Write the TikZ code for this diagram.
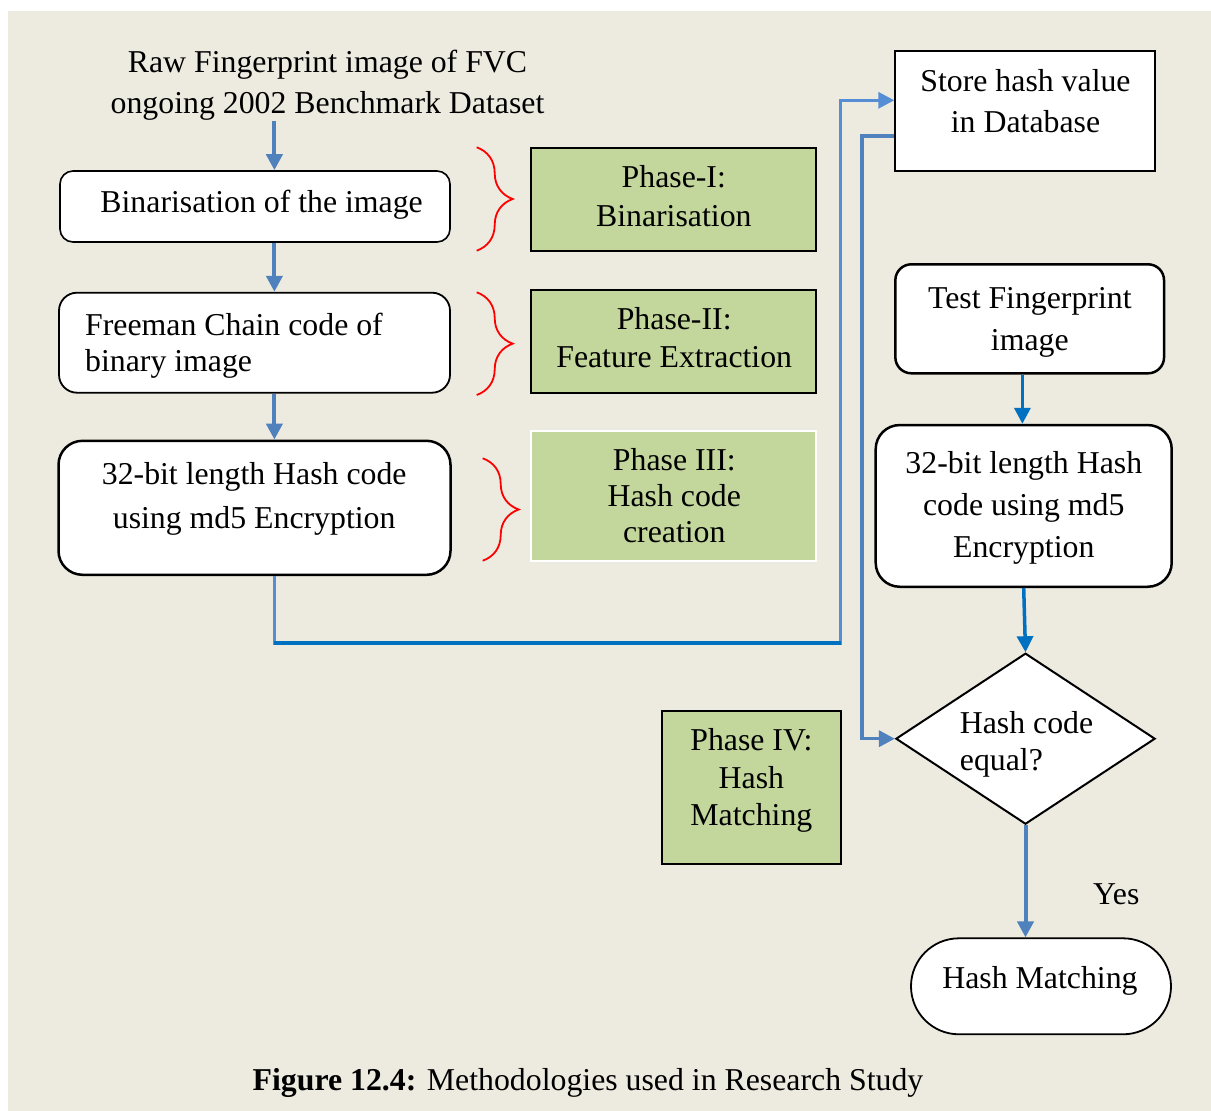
\documentclass[tikz,border=0pt]{standalone}
\usepackage{fontspec}
\setmainfont{Liberation Serif}
\usetikzlibrary{arrows.meta,shapes.geometric,decorations.pathreplacing}

\definecolor{paper}{HTML}{EDEAE0}
\definecolor{phasegreen}{HTML}{C3D69B}
\definecolor{flowblue}{HTML}{4F81BD}
\definecolor{lightflow}{HTML}{558ED5}
\definecolor{deepblue}{HTML}{0070C0}
\definecolor{bracered}{HTML}{FF0000}

\tikzset{
  body/.style={font=\fontsize{31.8}{#1}\selectfont, inner sep=0pt, align=center},
  body/.default=40,
  procbox/.style={draw=black, fill=white, inner sep=0pt, line width=1.8pt},
  phasebox/.style={draw=black, fill=phasegreen, inner sep=0pt, line width=2pt},
  flow/.style={draw=flowblue, line width=4pt,
    -{Triangle[length=16pt,width=16pt]}},
  deepflow/.style={draw=deepblue, line width=3.5pt,
    -{Triangle[length=16pt,width=16pt]}},
  phasebrace/.style={draw=bracered, line width=1.8pt, decorate,
    decoration={brace, amplitude=36pt}},
}

\begin{document}
\begin{tikzpicture}[x=1pt, y=-1pt]
  % page and tinted panel
  \fill[white] (0,0) rectangle (1211,1111);
  \fill[paper] (8,11) rectangle (1211,1111);
  \useasboundingbox (0,0) rectangle (1211,1111);

  % columns used by the vertical connectors
  \coordinate (colL) at (274.4,0);
  \coordinate (colR) at (1022.4,0);

  % ---------------- left column: enrolment pipeline ----------------
  \node[body=41.6] (src) at (327.5,85.2)
    {Raw Fingerprint image of FVC\\ongoing 2002 Benchmark Dataset};

  \node[procbox, rounded corners=13pt, line width=1.6pt,
        minimum width=390pt, minimum height=71pt] (b1) at (255,206.5) {};
  \node[body, anchor=base] (b1t) at (261.6,212.3) {Binarisation of the image};

  \node[procbox, rounded corners=18pt,
        minimum width=391pt, minimum height=100pt] (b2) at (254.5,342.7) {};
  \node[body=35.7, align=left, anchor=west] (b2t) at (85,345.5)
    {Freeman Chain code of\\binary image};

  \node[procbox, rounded corners=24pt, line width=2.5pt,
        minimum width=392pt, minimum height=134pt] (b3) at (254.5,507.8) {};
  \node[body=44] (b3t) at (254.2,498.7)
    {32-bit length Hash code\\using md5 Encryption};

  % ---------------- phase labels ----------------
  \node[phasebox, minimum width=285pt, minimum height=103pt] (ph1) at (673.4,199.2) {};
  \node[body=38.7] (ph1t) at (673.8,195.9) {Phase-I:\\Binarisation};

  \node[phasebox, minimum width=285pt, minimum height=102.7pt] (ph2) at (673.4,341.4) {};
  \node[body=38.4] (ph2t) at (674.2,337.8) {Phase-II:\\Feature Extraction};

  \node[phasebox, draw=white, minimum width=285pt, minimum height=130pt] (ph3) at (673.2,495.7) {};
  \node[body=36.35] (ph3t) at (674.3,495.6) {Phase III:\\Hash code\\creation};

  \node[phasebox, line width=1.6pt, minimum width=179pt, minimum height=153pt] (ph4) at (751.3,787.5) {};
  \node[body=37.15] (ph4t) at (751.4,780.5) {Phase IV:\\Hash\\Matching};

  % braces tying each step to its phase
  \draw[phasebrace] (476.7,147.3) -- (476.7,250.7);
  \draw[phasebrace] (476.7,292.3) -- (476.7,395);
  \draw[phasebrace] (482.7,458.3) -- (482.7,560.7);

  % ---------------- right column: storage and matching ----------------
  \node[procbox, line width=2pt, minimum width=259.4pt, minimum height=120.3pt] (store) at (1025,110.9) {};
  \node[body=41.3] (storet) at (1025.5,100.9) {Store hash value\\in Database};

  \node[procbox, rounded corners=16pt, line width=2.5pt,
        minimum width=268.7pt, minimum height=109pt] (test) at (1029.7,318.8) {};
  \node[body=42.4] (testt) at (1029.8,322.2) {Test Fingerprint\\image};

  \node[procbox, rounded corners=24pt, line width=2.5pt,
        minimum width=296pt, minimum height=161.7pt] (hash2) at (1023.7,505.9) {};
  \node[body=41.7] (hash2t) at (1023.8,507.7)
    {32-bit length Hash\\code using md5\\Encryption};

  \node[procbox, diamond, line width=2pt,
        minimum width=259.3pt, minimum height=171pt] (dia) at (1025.5,738.7) {};
  \node[body=36.7, align=left, anchor=west] (diat) at (959.7,744.3)
    {Hash code\\equal?};

  \node[procbox, rounded corners=48pt,
        minimum width=260pt, minimum height=96pt] (term) at (1041,986.3) {};
  \node[body, anchor=base] (termt) at (1040,988.3) {Hash Matching};

  \node[body, anchor=base west] (yes) at (1093,904.3) {Yes};

  % ---------------- connectors ----------------
  \draw[flow] (src.south -| colL) -- (b1.north -| colL);
  \draw[flow] (b1.south -| colL) -- (b2.north -| colL);
  \draw[flow] (b2.south -| colL) -- (b3.north -| colL);

  \coordinate (busL) at (274.4,643);
  \coordinate (busR) at (840.5,643);
  \coordinate (feedY) at (0,100.3);
  \draw[flow, draw=lightflow, line width=3.2pt]
    (b3.south -| colL) -- (busL) -- (busR) -- (busR |- feedY) -- (store.west |- feedY);
  \draw[draw=deepblue, line width=4pt] (busL) -- (busR);

  \coordinate (outY) at (0,136);
  \coordinate (retX) at (862,0);
  \draw[flow, line width=3.5pt]
    (store.west |- outY) -- (retX |- outY) -- (retX |- dia.west) -- (dia.west);

  \draw[deepflow] (test.south -| colR) -- (hash2.north -| colR);
  \draw[deepflow] (hash2.south) -- (dia.north);
  \draw[flow] (dia.south) -- (dia.south |- term.north);

  % ---------------- caption ----------------
  \node[body, anchor=base] (caption) at (588,1090)
    {\textbf{Figure 12.4:} Methodologies used in Research Study};
\end{tikzpicture}
\end{document}
